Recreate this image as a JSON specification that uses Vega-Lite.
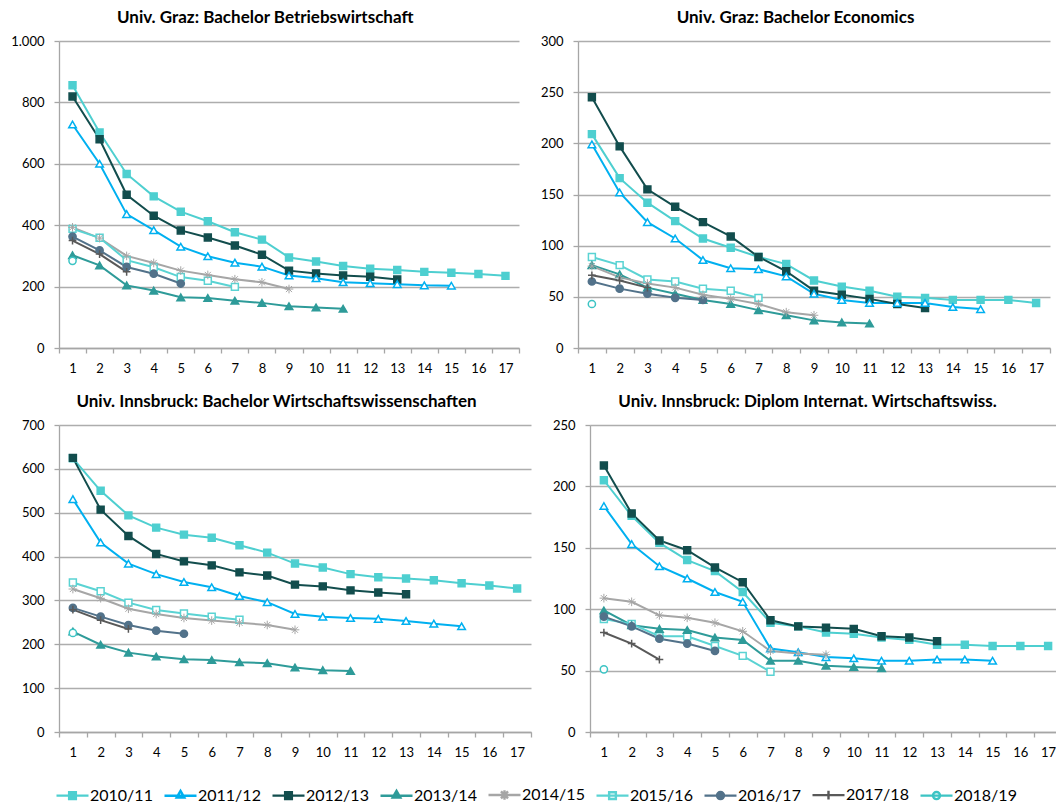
{
  "$schema": "https://vega.github.io/schema/vega-lite/v6.json",
  "padding": {"left": 10, "top": 9, "right": 4, "bottom": 2},
  "datasets": {
    "d": [
      {"p":1,"s":"2010/11","x":1,"v":856},{"p":1,"s":"2010/11","x":2,"v":702},{"p":1,"s":"2010/11","x":3,"v":567},{"p":1,"s":"2010/11","x":4,"v":494},{"p":1,"s":"2010/11","x":5,"v":444},{"p":1,"s":"2010/11","x":6,"v":413},{"p":1,"s":"2010/11","x":7,"v":377},{"p":1,"s":"2010/11","x":8,"v":353},{"p":1,"s":"2010/11","x":9,"v":295},{"p":1,"s":"2010/11","x":10,"v":282},{"p":1,"s":"2010/11","x":11,"v":267},{"p":1,"s":"2010/11","x":12,"v":258},{"p":1,"s":"2010/11","x":13,"v":254},{"p":1,"s":"2010/11","x":14,"v":248},{"p":1,"s":"2010/11","x":15,"v":245},{"p":1,"s":"2010/11","x":16,"v":241},{"p":1,"s":"2010/11","x":17,"v":235},
      {"p":1,"s":"2011/12","x":1,"v":728},{"p":1,"s":"2011/12","x":2,"v":600},{"p":1,"s":"2011/12","x":3,"v":436},{"p":1,"s":"2011/12","x":4,"v":384},{"p":1,"s":"2011/12","x":5,"v":330},{"p":1,"s":"2011/12","x":6,"v":299},{"p":1,"s":"2011/12","x":7,"v":278},{"p":1,"s":"2011/12","x":8,"v":265},{"p":1,"s":"2011/12","x":9,"v":236},{"p":1,"s":"2011/12","x":10,"v":227},{"p":1,"s":"2011/12","x":11,"v":214},{"p":1,"s":"2011/12","x":12,"v":211},{"p":1,"s":"2011/12","x":13,"v":208},{"p":1,"s":"2011/12","x":14,"v":204},{"p":1,"s":"2011/12","x":15,"v":203},
      {"p":1,"s":"2012/13","x":1,"v":819},{"p":1,"s":"2012/13","x":2,"v":680},{"p":1,"s":"2012/13","x":3,"v":499},{"p":1,"s":"2012/13","x":4,"v":431},{"p":1,"s":"2012/13","x":5,"v":383},{"p":1,"s":"2012/13","x":6,"v":360},{"p":1,"s":"2012/13","x":7,"v":334},{"p":1,"s":"2012/13","x":8,"v":304},{"p":1,"s":"2012/13","x":9,"v":252},{"p":1,"s":"2012/13","x":10,"v":243},{"p":1,"s":"2012/13","x":11,"v":236},{"p":1,"s":"2012/13","x":12,"v":232},{"p":1,"s":"2012/13","x":13,"v":223},
      {"p":1,"s":"2013/14","x":1,"v":302},{"p":1,"s":"2013/14","x":2,"v":269},{"p":1,"s":"2013/14","x":3,"v":204},{"p":1,"s":"2013/14","x":4,"v":187},{"p":1,"s":"2013/14","x":5,"v":165},{"p":1,"s":"2013/14","x":6,"v":163},{"p":1,"s":"2013/14","x":7,"v":154},{"p":1,"s":"2013/14","x":8,"v":147},{"p":1,"s":"2013/14","x":9,"v":136},{"p":1,"s":"2013/14","x":10,"v":132},{"p":1,"s":"2013/14","x":11,"v":128},
      {"p":1,"s":"2014/15","x":1,"v":393},{"p":1,"s":"2014/15","x":2,"v":358},{"p":1,"s":"2014/15","x":3,"v":300},{"p":1,"s":"2014/15","x":4,"v":277},{"p":1,"s":"2014/15","x":5,"v":252},{"p":1,"s":"2014/15","x":6,"v":238},{"p":1,"s":"2014/15","x":7,"v":224},{"p":1,"s":"2014/15","x":8,"v":214},{"p":1,"s":"2014/15","x":9,"v":192},
      {"p":1,"s":"2015/16","x":1,"v":388},{"p":1,"s":"2015/16","x":2,"v":359},{"p":1,"s":"2015/16","x":3,"v":286},{"p":1,"s":"2015/16","x":4,"v":263},{"p":1,"s":"2015/16","x":5,"v":231},{"p":1,"s":"2015/16","x":6,"v":219},{"p":1,"s":"2015/16","x":7,"v":199},
      {"p":1,"s":"2016/17","x":1,"v":363},{"p":1,"s":"2016/17","x":2,"v":318},{"p":1,"s":"2016/17","x":3,"v":264},{"p":1,"s":"2016/17","x":4,"v":242},{"p":1,"s":"2016/17","x":5,"v":210},
      {"p":1,"s":"2017/18","x":1,"v":350},{"p":1,"s":"2017/18","x":2,"v":306},{"p":1,"s":"2017/18","x":3,"v":248},
      {"p":1,"s":"2018/19","x":1,"v":284},
      {"p":2,"s":"2010/11","x":1,"v":209},{"p":2,"s":"2010/11","x":2,"v":166},{"p":2,"s":"2010/11","x":3,"v":142},{"p":2,"s":"2010/11","x":4,"v":124},{"p":2,"s":"2010/11","x":5,"v":107},{"p":2,"s":"2010/11","x":6,"v":98},{"p":2,"s":"2010/11","x":7,"v":89},{"p":2,"s":"2010/11","x":8,"v":82},{"p":2,"s":"2010/11","x":9,"v":66},{"p":2,"s":"2010/11","x":10,"v":60},{"p":2,"s":"2010/11","x":11,"v":56},{"p":2,"s":"2010/11","x":12,"v":50},{"p":2,"s":"2010/11","x":13,"v":49},{"p":2,"s":"2010/11","x":14,"v":47},{"p":2,"s":"2010/11","x":15,"v":47},{"p":2,"s":"2010/11","x":16,"v":47},{"p":2,"s":"2010/11","x":17,"v":44},
      {"p":2,"s":"2011/12","x":1,"v":199},{"p":2,"s":"2011/12","x":2,"v":152},{"p":2,"s":"2011/12","x":3,"v":123},{"p":2,"s":"2011/12","x":4,"v":107},{"p":2,"s":"2011/12","x":5,"v":86},{"p":2,"s":"2011/12","x":6,"v":78},{"p":2,"s":"2011/12","x":7,"v":77},{"p":2,"s":"2011/12","x":8,"v":70},{"p":2,"s":"2011/12","x":9,"v":53},{"p":2,"s":"2011/12","x":10,"v":47},{"p":2,"s":"2011/12","x":11,"v":44},{"p":2,"s":"2011/12","x":12,"v":44},{"p":2,"s":"2011/12","x":13,"v":44},{"p":2,"s":"2011/12","x":14,"v":40},{"p":2,"s":"2011/12","x":15,"v":38},
      {"p":2,"s":"2012/13","x":1,"v":245},{"p":2,"s":"2012/13","x":2,"v":197},{"p":2,"s":"2012/13","x":3,"v":155},{"p":2,"s":"2012/13","x":4,"v":138},{"p":2,"s":"2012/13","x":5,"v":123},{"p":2,"s":"2012/13","x":6,"v":109},{"p":2,"s":"2012/13","x":7,"v":89},{"p":2,"s":"2012/13","x":8,"v":75},{"p":2,"s":"2012/13","x":9,"v":56},{"p":2,"s":"2012/13","x":10,"v":52},{"p":2,"s":"2012/13","x":11,"v":48},{"p":2,"s":"2012/13","x":12,"v":43},{"p":2,"s":"2012/13","x":13,"v":39},
      {"p":2,"s":"2013/14","x":1,"v":81},{"p":2,"s":"2013/14","x":2,"v":72},{"p":2,"s":"2013/14","x":3,"v":59},{"p":2,"s":"2013/14","x":4,"v":53},{"p":2,"s":"2013/14","x":5,"v":47},{"p":2,"s":"2013/14","x":6,"v":43},{"p":2,"s":"2013/14","x":7,"v":37},{"p":2,"s":"2013/14","x":8,"v":32},{"p":2,"s":"2013/14","x":9,"v":27},{"p":2,"s":"2013/14","x":10,"v":25},{"p":2,"s":"2013/14","x":11,"v":24},
      {"p":2,"s":"2014/15","x":1,"v":80},{"p":2,"s":"2014/15","x":2,"v":69},{"p":2,"s":"2014/15","x":3,"v":63},{"p":2,"s":"2014/15","x":4,"v":59},{"p":2,"s":"2014/15","x":5,"v":52},{"p":2,"s":"2014/15","x":6,"v":48},{"p":2,"s":"2014/15","x":7,"v":43},{"p":2,"s":"2014/15","x":8,"v":35},{"p":2,"s":"2014/15","x":9,"v":32},
      {"p":2,"s":"2015/16","x":1,"v":89},{"p":2,"s":"2015/16","x":2,"v":81},{"p":2,"s":"2015/16","x":3,"v":67},{"p":2,"s":"2015/16","x":4,"v":65},{"p":2,"s":"2015/16","x":5,"v":58},{"p":2,"s":"2015/16","x":6,"v":56},{"p":2,"s":"2015/16","x":7,"v":49},
      {"p":2,"s":"2016/17","x":1,"v":65},{"p":2,"s":"2016/17","x":2,"v":58},{"p":2,"s":"2016/17","x":3,"v":53},{"p":2,"s":"2016/17","x":4,"v":49},{"p":2,"s":"2016/17","x":5,"v":47},
      {"p":2,"s":"2017/18","x":1,"v":71},{"p":2,"s":"2017/18","x":2,"v":66},{"p":2,"s":"2017/18","x":3,"v":59},
      {"p":2,"s":"2018/19","x":1,"v":43},
      {"p":3,"s":"2010/11","x":1,"v":624},{"p":3,"s":"2010/11","x":2,"v":550},{"p":3,"s":"2010/11","x":3,"v":494},{"p":3,"s":"2010/11","x":4,"v":466},{"p":3,"s":"2010/11","x":5,"v":450},{"p":3,"s":"2010/11","x":6,"v":443},{"p":3,"s":"2010/11","x":7,"v":426},{"p":3,"s":"2010/11","x":8,"v":409},{"p":3,"s":"2010/11","x":9,"v":384},{"p":3,"s":"2010/11","x":10,"v":375},{"p":3,"s":"2010/11","x":11,"v":360},{"p":3,"s":"2010/11","x":12,"v":353},{"p":3,"s":"2010/11","x":13,"v":350},{"p":3,"s":"2010/11","x":14,"v":346},{"p":3,"s":"2010/11","x":15,"v":339},{"p":3,"s":"2010/11","x":16,"v":334},{"p":3,"s":"2010/11","x":17,"v":327},
      {"p":3,"s":"2011/12","x":1,"v":531},{"p":3,"s":"2011/12","x":2,"v":432},{"p":3,"s":"2011/12","x":3,"v":384},{"p":3,"s":"2011/12","x":4,"v":360},{"p":3,"s":"2011/12","x":5,"v":342},{"p":3,"s":"2011/12","x":6,"v":330},{"p":3,"s":"2011/12","x":7,"v":310},{"p":3,"s":"2011/12","x":8,"v":296},{"p":3,"s":"2011/12","x":9,"v":269},{"p":3,"s":"2011/12","x":10,"v":263},{"p":3,"s":"2011/12","x":11,"v":260},{"p":3,"s":"2011/12","x":12,"v":258},{"p":3,"s":"2011/12","x":13,"v":253},{"p":3,"s":"2011/12","x":14,"v":247},{"p":3,"s":"2011/12","x":15,"v":241},
      {"p":3,"s":"2012/13","x":1,"v":625},{"p":3,"s":"2012/13","x":2,"v":507},{"p":3,"s":"2012/13","x":3,"v":447},{"p":3,"s":"2012/13","x":4,"v":406},{"p":3,"s":"2012/13","x":5,"v":389},{"p":3,"s":"2012/13","x":6,"v":380},{"p":3,"s":"2012/13","x":7,"v":364},{"p":3,"s":"2012/13","x":8,"v":357},{"p":3,"s":"2012/13","x":9,"v":336},{"p":3,"s":"2012/13","x":10,"v":332},{"p":3,"s":"2012/13","x":11,"v":323},{"p":3,"s":"2012/13","x":12,"v":318},{"p":3,"s":"2012/13","x":13,"v":314},
      {"p":3,"s":"2013/14","x":1,"v":229},{"p":3,"s":"2013/14","x":2,"v":199},{"p":3,"s":"2013/14","x":3,"v":181},{"p":3,"s":"2013/14","x":4,"v":172},{"p":3,"s":"2013/14","x":5,"v":166},{"p":3,"s":"2013/14","x":6,"v":164},{"p":3,"s":"2013/14","x":7,"v":159},{"p":3,"s":"2013/14","x":8,"v":157},{"p":3,"s":"2013/14","x":9,"v":147},{"p":3,"s":"2013/14","x":10,"v":141},{"p":3,"s":"2013/14","x":11,"v":139},
      {"p":3,"s":"2014/15","x":1,"v":326},{"p":3,"s":"2014/15","x":2,"v":305},{"p":3,"s":"2014/15","x":3,"v":281},{"p":3,"s":"2014/15","x":4,"v":269},{"p":3,"s":"2014/15","x":5,"v":260},{"p":3,"s":"2014/15","x":6,"v":254},{"p":3,"s":"2014/15","x":7,"v":249},{"p":3,"s":"2014/15","x":8,"v":244},{"p":3,"s":"2014/15","x":9,"v":233},
      {"p":3,"s":"2015/16","x":1,"v":341},{"p":3,"s":"2015/16","x":2,"v":321},{"p":3,"s":"2015/16","x":3,"v":295},{"p":3,"s":"2015/16","x":4,"v":278},{"p":3,"s":"2015/16","x":5,"v":270},{"p":3,"s":"2015/16","x":6,"v":263},{"p":3,"s":"2015/16","x":7,"v":256},
      {"p":3,"s":"2016/17","x":1,"v":283},{"p":3,"s":"2016/17","x":2,"v":263},{"p":3,"s":"2016/17","x":3,"v":244},{"p":3,"s":"2016/17","x":4,"v":231},{"p":3,"s":"2016/17","x":5,"v":224},
      {"p":3,"s":"2017/18","x":1,"v":279},{"p":3,"s":"2017/18","x":2,"v":255},{"p":3,"s":"2017/18","x":3,"v":235},
      {"p":3,"s":"2018/19","x":1,"v":226},
      {"p":4,"s":"2010/11","x":1,"v":205},{"p":4,"s":"2010/11","x":2,"v":176},{"p":4,"s":"2010/11","x":3,"v":154},{"p":4,"s":"2010/11","x":4,"v":140},{"p":4,"s":"2010/11","x":5,"v":131},{"p":4,"s":"2010/11","x":6,"v":114},{"p":4,"s":"2010/11","x":7,"v":89},{"p":4,"s":"2010/11","x":8,"v":86},{"p":4,"s":"2010/11","x":9,"v":81},{"p":4,"s":"2010/11","x":10,"v":80},{"p":4,"s":"2010/11","x":11,"v":77},{"p":4,"s":"2010/11","x":12,"v":75},{"p":4,"s":"2010/11","x":13,"v":71},{"p":4,"s":"2010/11","x":14,"v":71},{"p":4,"s":"2010/11","x":15,"v":70},{"p":4,"s":"2010/11","x":16,"v":70},{"p":4,"s":"2010/11","x":17,"v":70},
      {"p":4,"s":"2011/12","x":1,"v":184},{"p":4,"s":"2011/12","x":2,"v":153},{"p":4,"s":"2011/12","x":3,"v":135},{"p":4,"s":"2011/12","x":4,"v":125},{"p":4,"s":"2011/12","x":5,"v":114},{"p":4,"s":"2011/12","x":6,"v":106},{"p":4,"s":"2011/12","x":7,"v":68},{"p":4,"s":"2011/12","x":8,"v":65},{"p":4,"s":"2011/12","x":9,"v":61},{"p":4,"s":"2011/12","x":10,"v":60},{"p":4,"s":"2011/12","x":11,"v":58},{"p":4,"s":"2011/12","x":12,"v":58},{"p":4,"s":"2011/12","x":13,"v":59},{"p":4,"s":"2011/12","x":14,"v":59},{"p":4,"s":"2011/12","x":15,"v":58},
      {"p":4,"s":"2012/13","x":1,"v":217},{"p":4,"s":"2012/13","x":2,"v":178},{"p":4,"s":"2012/13","x":3,"v":156},{"p":4,"s":"2012/13","x":4,"v":148},{"p":4,"s":"2012/13","x":5,"v":134},{"p":4,"s":"2012/13","x":6,"v":122},{"p":4,"s":"2012/13","x":7,"v":91},{"p":4,"s":"2012/13","x":8,"v":86},{"p":4,"s":"2012/13","x":9,"v":85},{"p":4,"s":"2012/13","x":10,"v":84},{"p":4,"s":"2012/13","x":11,"v":78},{"p":4,"s":"2012/13","x":12,"v":77},{"p":4,"s":"2012/13","x":13,"v":74},
      {"p":4,"s":"2013/14","x":1,"v":99},{"p":4,"s":"2013/14","x":2,"v":87},{"p":4,"s":"2013/14","x":3,"v":84},{"p":4,"s":"2013/14","x":4,"v":83},{"p":4,"s":"2013/14","x":5,"v":77},{"p":4,"s":"2013/14","x":6,"v":75},{"p":4,"s":"2013/14","x":7,"v":58},{"p":4,"s":"2013/14","x":8,"v":58},{"p":4,"s":"2013/14","x":9,"v":54},{"p":4,"s":"2013/14","x":10,"v":53},{"p":4,"s":"2013/14","x":11,"v":52},
      {"p":4,"s":"2014/15","x":1,"v":109},{"p":4,"s":"2014/15","x":2,"v":106},{"p":4,"s":"2014/15","x":3,"v":95},{"p":4,"s":"2014/15","x":4,"v":93},{"p":4,"s":"2014/15","x":5,"v":89},{"p":4,"s":"2014/15","x":6,"v":82},{"p":4,"s":"2014/15","x":7,"v":66},{"p":4,"s":"2014/15","x":8,"v":64},{"p":4,"s":"2014/15","x":9,"v":63},
      {"p":4,"s":"2015/16","x":1,"v":92},{"p":4,"s":"2015/16","x":2,"v":88},{"p":4,"s":"2015/16","x":3,"v":78},{"p":4,"s":"2015/16","x":4,"v":78},{"p":4,"s":"2015/16","x":5,"v":70},{"p":4,"s":"2015/16","x":6,"v":62},{"p":4,"s":"2015/16","x":7,"v":49},
      {"p":4,"s":"2016/17","x":1,"v":94},{"p":4,"s":"2016/17","x":2,"v":86},{"p":4,"s":"2016/17","x":3,"v":76},{"p":4,"s":"2016/17","x":4,"v":72},{"p":4,"s":"2016/17","x":5,"v":66},
      {"p":4,"s":"2017/18","x":1,"v":81},{"p":4,"s":"2017/18","x":2,"v":72},{"p":4,"s":"2017/18","x":3,"v":59},
      {"p":4,"s":"2018/19","x":1,"v":51}
    ]
  },
  "data": {"name": "d"},
  "vconcat": [
    {
      "hconcat": [
        {
          "width": 460, "height": 307,
          "title": {"text": "Univ. Graz: Bachelor Betriebswirtschaft"},
          "transform": [{"filter": "datum.p === 1"}],
          "encoding": {
            "x": {"field": "x", "type": "ordinal", "title": null, "scale": {"type": "band", "domain": [1,2,3,4,5,6,7,8,9,10,11,12,13,14,15,16,17], "paddingInner": 0, "paddingOuter": 0}},
            "y": {"field": "v", "type": "quantitative", "title": null, "scale": {"domain": [0, 1000], "nice": false}, "axis": {"values": [0,200,400,600,800,1000], "labelExpr": "replace(format(datum.value, ','), ',', '.')"}},
            "stroke": {"field": "s", "type": "nominal", "scale": {"domain": ["2010/11","2011/12","2012/13","2013/14","2014/15","2015/16","2016/17","2017/18","2018/19"], "range": ["#4ECFD0","#00B0F0","#124D4D","#2E9B99","#A6A6A6","#5AD3D3","#52728A","#595959","#3CC4C4"]},
              "legend": {"orient": "none", "legendX": -4, "legendY": 736, "encode": {"symbols": {"update": {
                "shape": {"signal": "{'2010/11':'M-1,0L1,0M-0.21,-0.21L0.21,-0.21L0.21,0.21L-0.21,0.21Z','2011/12':'M-1,0L1,0M0,-0.3L0.24,0.12L-0.24,0.12Z','2012/13':'M-1,0L1,0M-0.21,-0.21L0.21,-0.21L0.21,0.21L-0.21,0.21Z','2013/14':'M-1,0L1,0M0,-0.3L0.24,0.12L-0.24,0.12Z','2014/15':'M-1,0L1,0M0,-0.3L0,0.3M-0.22,-0.22L0.22,0.22M-0.22,0.22L0.22,-0.22','2015/16':'M-1,0L1,0M-0.21,-0.21L0.21,-0.21L0.21,0.21L-0.21,0.21Z','2016/17':'M-1,0L1,0M-0.22,0A0.22,0.22,0,1,0,0.22,0A0.22,0.22,0,1,0,-0.22,0Z','2017/18':'M-1,0L1,0M0,-0.28L0,0.28','2018/19':'M-1,0L1,0M-0.22,0A0.22,0.22,0,1,0,0.22,0A0.22,0.22,0,1,0,-0.22,0Z'}[datum.value]"},
                "fill": {"signal": "{'2010/11':'#4ECFD0','2011/12':'#ffffff','2012/13':'#124D4D','2013/14':'#2E9B99','2014/15':'#A6A6A6','2015/16':'#ffffff','2016/17':'#52728A','2017/18':'#595959','2018/19':'#ffffff'}[datum.value]"},
                "stroke": {"signal": "{'2010/11':'#4ECFD0','2011/12':'#00B0F0','2012/13':'#124D4D','2013/14':'#2E9B99','2014/15':'#A6A6A6','2015/16':'#5AD3D3','2016/17':'#52728A','2017/18':'#595959','2018/19':'#3CC4C4'}[datum.value]"},
                "strokeWidth": {"value": 2.4},
                "opacity": {"value": 1}
              }}}}
            }
          },
          "layer": [
            {"mark": {"type": "line", "strokeWidth": 2}},
            {"transform": [{"filter": {"field": "s", "oneOf": ["2010/11","2012/13","2015/16"]}}], "mark": {"type": "point", "shape": "square", "size": 48, "strokeWidth": 1.5, "opacity": 1}, "encoding": {"fill": {"field": "s", "type": "nominal", "legend": null, "scale": {"domain": ["2010/11","2011/12","2012/13","2013/14","2014/15","2015/16","2016/17","2017/18","2018/19"], "range": ["#4ECFD0","#ffffff","#124D4D","#2E9B99","#A6A6A6","#ffffff","#52728A","#595959","#ffffff"]}}}},
            {"transform": [{"filter": {"field": "s", "oneOf": ["2011/12","2013/14"]}}], "mark": {"type": "point", "shape": "triangle-up", "size": 58, "strokeWidth": 1.5, "opacity": 1}, "encoding": {"fill": {"field": "s", "type": "nominal", "legend": null}}},
            {"transform": [{"filter": {"field": "s", "oneOf": ["2016/17","2018/19"]}}], "mark": {"type": "point", "shape": "circle", "size": 52, "strokeWidth": 1.5, "opacity": 1}, "encoding": {"fill": {"field": "s", "type": "nominal", "legend": null}}},
            {"transform": [{"filter": {"field": "s", "equal": "2014/15"}}], "mark": {"type": "point", "shape": "M-1,0L1,0M0,-1L0,1M-0.7,-0.7L0.7,0.7M-0.7,0.7L0.7,-0.7", "size": 75, "strokeWidth": 1, "filled": false, "opacity": 1}},
            {"transform": [{"filter": {"field": "s", "equal": "2017/18"}}], "mark": {"type": "point", "shape": "M-1,0L1,0M0,-1L0,1", "size": 60, "strokeWidth": 1.5, "filled": false, "opacity": 1}}
          ]
        },
        {
          "width": 472, "height": 307,
          "title": {"text": "Univ. Graz: Bachelor Economics"},
          "transform": [{"filter": "datum.p === 2"}],
          "encoding": {
            "x": {"field": "x", "type": "ordinal", "title": null, "scale": {"type": "band", "domain": [1,2,3,4,5,6,7,8,9,10,11,12,13,14,15,16,17], "paddingInner": 0, "paddingOuter": 0}},
            "y": {"field": "v", "type": "quantitative", "title": null, "scale": {"domain": [0, 300], "nice": false}, "axis": {"values": [0,50,100,150,200,250,300]}},
            "stroke": {"field": "s", "type": "nominal"}
          },
          "layer": [
            {"mark": {"type": "line", "strokeWidth": 2}},
            {"transform": [{"filter": {"field": "s", "oneOf": ["2010/11","2012/13","2015/16"]}}], "mark": {"type": "point", "shape": "square", "size": 48, "strokeWidth": 1.5, "opacity": 1}, "encoding": {"fill": {"field": "s", "type": "nominal", "legend": null}}},
            {"transform": [{"filter": {"field": "s", "oneOf": ["2011/12","2013/14"]}}], "mark": {"type": "point", "shape": "triangle-up", "size": 58, "strokeWidth": 1.5, "opacity": 1}, "encoding": {"fill": {"field": "s", "type": "nominal", "legend": null}}},
            {"transform": [{"filter": {"field": "s", "oneOf": ["2016/17","2018/19"]}}], "mark": {"type": "point", "shape": "circle", "size": 52, "strokeWidth": 1.5, "opacity": 1}, "encoding": {"fill": {"field": "s", "type": "nominal", "legend": null}}},
            {"transform": [{"filter": {"field": "s", "equal": "2014/15"}}], "mark": {"type": "point", "shape": "M-1,0L1,0M0,-1L0,1M-0.7,-0.7L0.7,0.7M-0.7,0.7L0.7,-0.7", "size": 75, "strokeWidth": 1, "filled": false, "opacity": 1}},
            {"transform": [{"filter": {"field": "s", "equal": "2017/18"}}], "mark": {"type": "point", "shape": "M-1,0L1,0M0,-1L0,1", "size": 60, "strokeWidth": 1.5, "filled": false, "opacity": 1}}
          ]
        }
      ]
    },
    {
      "hconcat": [
        {
          "width": 472, "height": 307,
          "title": {"text": "Univ. Innsbruck: Bachelor Wirtschaftswissenschaften"},
          "transform": [{"filter": "datum.p === 3"}],
          "encoding": {
            "x": {"field": "x", "type": "ordinal", "title": null, "scale": {"type": "band", "domain": [1,2,3,4,5,6,7,8,9,10,11,12,13,14,15,16,17], "paddingInner": 0, "paddingOuter": 0}},
            "y": {"field": "v", "type": "quantitative", "title": null, "scale": {"domain": [0, 700], "nice": false}, "axis": {"values": [0,100,200,300,400,500,600,700]}},
            "stroke": {"field": "s", "type": "nominal"}
          },
          "layer": [
            {"mark": {"type": "line", "strokeWidth": 2}},
            {"transform": [{"filter": {"field": "s", "oneOf": ["2010/11","2012/13","2015/16"]}}], "mark": {"type": "point", "shape": "square", "size": 48, "strokeWidth": 1.5, "opacity": 1}, "encoding": {"fill": {"field": "s", "type": "nominal", "legend": null}}},
            {"transform": [{"filter": {"field": "s", "oneOf": ["2011/12","2013/14"]}}], "mark": {"type": "point", "shape": "triangle-up", "size": 58, "strokeWidth": 1.5, "opacity": 1}, "encoding": {"fill": {"field": "s", "type": "nominal", "legend": null}}},
            {"transform": [{"filter": {"field": "s", "oneOf": ["2016/17","2018/19"]}}], "mark": {"type": "point", "shape": "circle", "size": 52, "strokeWidth": 1.5, "opacity": 1}, "encoding": {"fill": {"field": "s", "type": "nominal", "legend": null}}},
            {"transform": [{"filter": {"field": "s", "equal": "2014/15"}}], "mark": {"type": "point", "shape": "M-1,0L1,0M0,-1L0,1M-0.7,-0.7L0.7,0.7M-0.7,0.7L0.7,-0.7", "size": 75, "strokeWidth": 1, "filled": false, "opacity": 1}},
            {"transform": [{"filter": {"field": "s", "equal": "2017/18"}}], "mark": {"type": "point", "shape": "M-1,0L1,0M0,-1L0,1", "size": 60, "strokeWidth": 1.5, "filled": false, "opacity": 1}}
          ]
        },
        {
          "width": 472, "height": 307,
          "title": {"text": "Univ. Innsbruck: Diplom Internat. Wirtschaftswiss."},
          "transform": [{"filter": "datum.p === 4"}],
          "encoding": {
            "x": {"field": "x", "type": "ordinal", "title": null, "scale": {"type": "band", "domain": [1,2,3,4,5,6,7,8,9,10,11,12,13,14,15,16,17], "paddingInner": 0, "paddingOuter": 0}},
            "y": {"field": "v", "type": "quantitative", "title": null, "scale": {"domain": [0, 250], "nice": false}, "axis": {"values": [0,50,100,150,200,250]}},
            "stroke": {"field": "s", "type": "nominal"}
          },
          "layer": [
            {"mark": {"type": "line", "strokeWidth": 2}},
            {"transform": [{"filter": {"field": "s", "oneOf": ["2010/11","2012/13","2015/16"]}}], "mark": {"type": "point", "shape": "square", "size": 48, "strokeWidth": 1.5, "opacity": 1}, "encoding": {"fill": {"field": "s", "type": "nominal", "legend": null}}},
            {"transform": [{"filter": {"field": "s", "oneOf": ["2011/12","2013/14"]}}], "mark": {"type": "point", "shape": "triangle-up", "size": 58, "strokeWidth": 1.5, "opacity": 1}, "encoding": {"fill": {"field": "s", "type": "nominal", "legend": null}}},
            {"transform": [{"filter": {"field": "s", "oneOf": ["2016/17","2018/19"]}}], "mark": {"type": "point", "shape": "circle", "size": 52, "strokeWidth": 1.5, "opacity": 1}, "encoding": {"fill": {"field": "s", "type": "nominal", "legend": null}}},
            {"transform": [{"filter": {"field": "s", "equal": "2014/15"}}], "mark": {"type": "point", "shape": "M-1,0L1,0M0,-1L0,1M-0.7,-0.7L0.7,0.7M-0.7,0.7L0.7,-0.7", "size": 75, "strokeWidth": 1, "filled": false, "opacity": 1}},
            {"transform": [{"filter": {"field": "s", "equal": "2017/18"}}], "mark": {"type": "point", "shape": "M-1,0L1,0M0,-1L0,1", "size": 60, "strokeWidth": 1.5, "filled": false, "opacity": 1}}
          ]
        }
      ]
    }
  ],
  "resolve": {"scale": {"stroke": "shared", "fill": "shared"}},
  "spacing": 18,
  "config": {
    "font": "Lato",
    "view": {"stroke": null},
    "concat": {"spacing": 20},
    "title": {"font": "Lato", "fontSize": 17, "fontWeight": "bold", "color": "#000000", "frame": "bounds", "anchor": "middle", "offset": 8},
    "axis": {"labelFont": "Lato", "labelFontSize": 13, "labelColor": "#000000", "domainColor": "#A6A6A6", "tickColor": "#A6A6A6", "tickSize": 5, "domainWidth": 1.3, "tickWidth": 1.3},
    "axisX": {"grid": false, "tickBand": "extent", "labelAngle": 0, "labelPadding": 9},
    "axisY": {"grid": true, "gridColor": "#ADADAD", "gridWidth": 1.3, "labelPadding": 10},
    "legend": {"direction": "horizontal", "title": null, "columns": 9, "symbolSize": 1024, "labelFont": "Lato", "labelFontSize": 16, "labelColor": "#000000", "labelOffset": 0, "columnPadding": 6}
  }
}
